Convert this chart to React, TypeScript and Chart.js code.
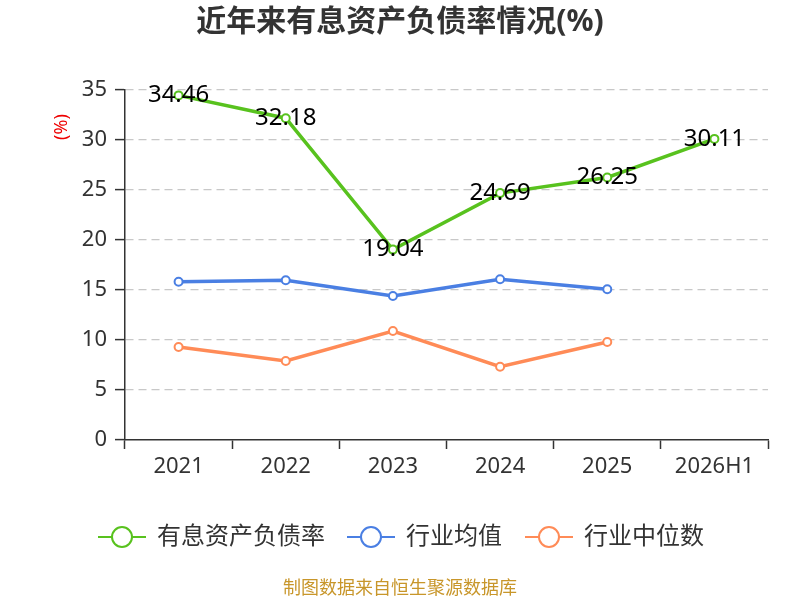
import { useEffect, useRef } from 'react';
import { Chart, registerables } from 'chart.js';

Chart.register(...registerables);

const FONT = '"Noto Sans", "Noto Sans CJK SC", sans-serif';

const categories = ['2021', '2022', '2023', '2024', '2025', '2026H1'];
const debtRatio = [34.46, 32.18, 19.04, 24.69, 26.25, 30.11];
const industryMean = [15.83, 15.97, 14.4, 16.07, 15.07, null];
const industryMedian = [9.3, 7.9, 10.9, 7.33, 9.8, null];
const seriesNames = ['有息资产负债率', '行业均值', '行业中位数'];
const seriesColors = ['#58c21e', '#4a7fe3', '#ff8b57'];

const titleText = '近年来有息资产负债率情况(%)';
const footerText = '制图数据来自恒生聚源数据库';

const decorPlugin = {
  id: 'decor',
  afterDatasetsDraw(chart: Chart) {
    const ctx = chart.ctx;
    ctx.save();

    // value labels for the main series, centred on the points
    const meta = chart.getDatasetMeta(0);
    ctx.font = `24px ${FONT}`;
    ctx.fillStyle = '#000';
    ctx.textAlign = 'center';
    ctx.textBaseline = 'middle';
    meta.data.forEach((pt: any, i: number) => {
      ctx.fillText(debtRatio[i].toFixed(2), pt.x, pt.y);
    });

    // title
    ctx.font = `bold 30px ${FONT}`;
    ctx.fillStyle = '#333';
    ctx.fillText(titleText, 400, 22);

    // y axis unit
    ctx.save();
    ctx.translate(62, 127);
    ctx.rotate(-Math.PI / 2);
    ctx.font = `18px ${FONT}`;
    ctx.fillStyle = '#e00';
    ctx.fillText('(%)', 0, 0);
    ctx.restore();

    // legend
    const starts = [98, 347, 525];
    const y = 537;
    seriesNames.forEach((name, i) => {
      const x0 = starts[i];
      ctx.strokeStyle = seriesColors[i];
      ctx.lineWidth = 2;
      ctx.beginPath();
      ctx.moveTo(x0, y);
      ctx.lineTo(x0 + 48, y);
      ctx.stroke();
      ctx.beginPath();
      ctx.arc(x0 + 24, y, 10, 0, Math.PI * 2);
      ctx.fillStyle = '#fff';
      ctx.fill();
      ctx.stroke();
      ctx.font = `24px ${FONT}`;
      ctx.fillStyle = '#333';
      ctx.textAlign = 'left';
      ctx.fillText(name, x0 + 59, y);
    });

    // footer
    ctx.textAlign = 'center';
    ctx.font = `18px ${FONT}`;
    ctx.fillStyle = '#c8962a';
    ctx.fillText(footerText, 400, 589);

    ctx.restore();
  },
};

export default function App() {
  const canvasRef = useRef<HTMLCanvasElement>(null);
  const chartRef = useRef<Chart | null>(null);

  useEffect(() => {
    if (!canvasRef.current) return;
    if (chartRef.current) chartRef.current.destroy();

    const makeSet = (i: number, data: (number | null)[]) => ({
      label: seriesNames[i],
      data,
      borderColor: seriesColors[i],
      backgroundColor: '#fff',
      borderWidth: 3.5,
      pointRadius: 4,
      pointBorderWidth: 2,
      pointBackgroundColor: '#fff',
      pointBorderColor: seriesColors[i],
      tension: 0,
      spanGaps: false,
    });

    chartRef.current = new Chart(canvasRef.current, {
      type: 'line',
      data: {
        labels: categories,
        datasets: [
          makeSet(0, debtRatio),
          makeSet(1, industryMean),
          makeSet(2, industryMedian),
        ],
      },
      options: {
        responsive: false,
        animation: false,
        layout: { padding: { top: 90, right: 32, left: 0, bottom: 0 } },
        scales: {
          x: {
            type: 'category',
            offset: true,
            grid: {
              offset: true,
              drawOnChartArea: false,
              tickLength: 9,
              tickColor: '#333',
              tickWidth: 1.5,
            },
            border: { color: '#333', width: 1.5 },
            ticks: { color: '#333', font: { size: 22, family: FONT }, padding: 5 },
            afterFit: (scale: any) => {
              scale.height = 160;
            },
          },
          y: {
            min: 0,
            max: 35,
            ticks: { stepSize: 5, color: '#333', font: { size: 22, family: FONT }, padding: 8 },
            grid: {
              color: (c: any) => (c.tick && c.tick.value === 0 ? 'rgba(0,0,0,0)' : '#c8c8c8'),
              lineWidth: 1.2,
              tickColor: '#333',
              tickLength: 10,
              tickWidth: 1.5,
              tickBorderDash: [],
            },
            border: { color: '#333', width: 1.5, dash: [8, 5] } as any,
            afterFit: (scale: any) => {
              scale.width = 125;
            },
          },
        },
        plugins: {
          legend: { display: false },
          title: { display: false },
          tooltip: { enabled: false },
        },
      },
      plugins: [decorPlugin],
    } as any);

    return () => {
      chartRef.current?.destroy();
      chartRef.current = null;
    };
  }, []);

  return (
    <div style={{ position: 'absolute', left: 0, top: 0, width: 800, height: 600, background: '#fff' }}>
      <canvas ref={canvasRef} width={800} height={600} />
    </div>
  );
}
